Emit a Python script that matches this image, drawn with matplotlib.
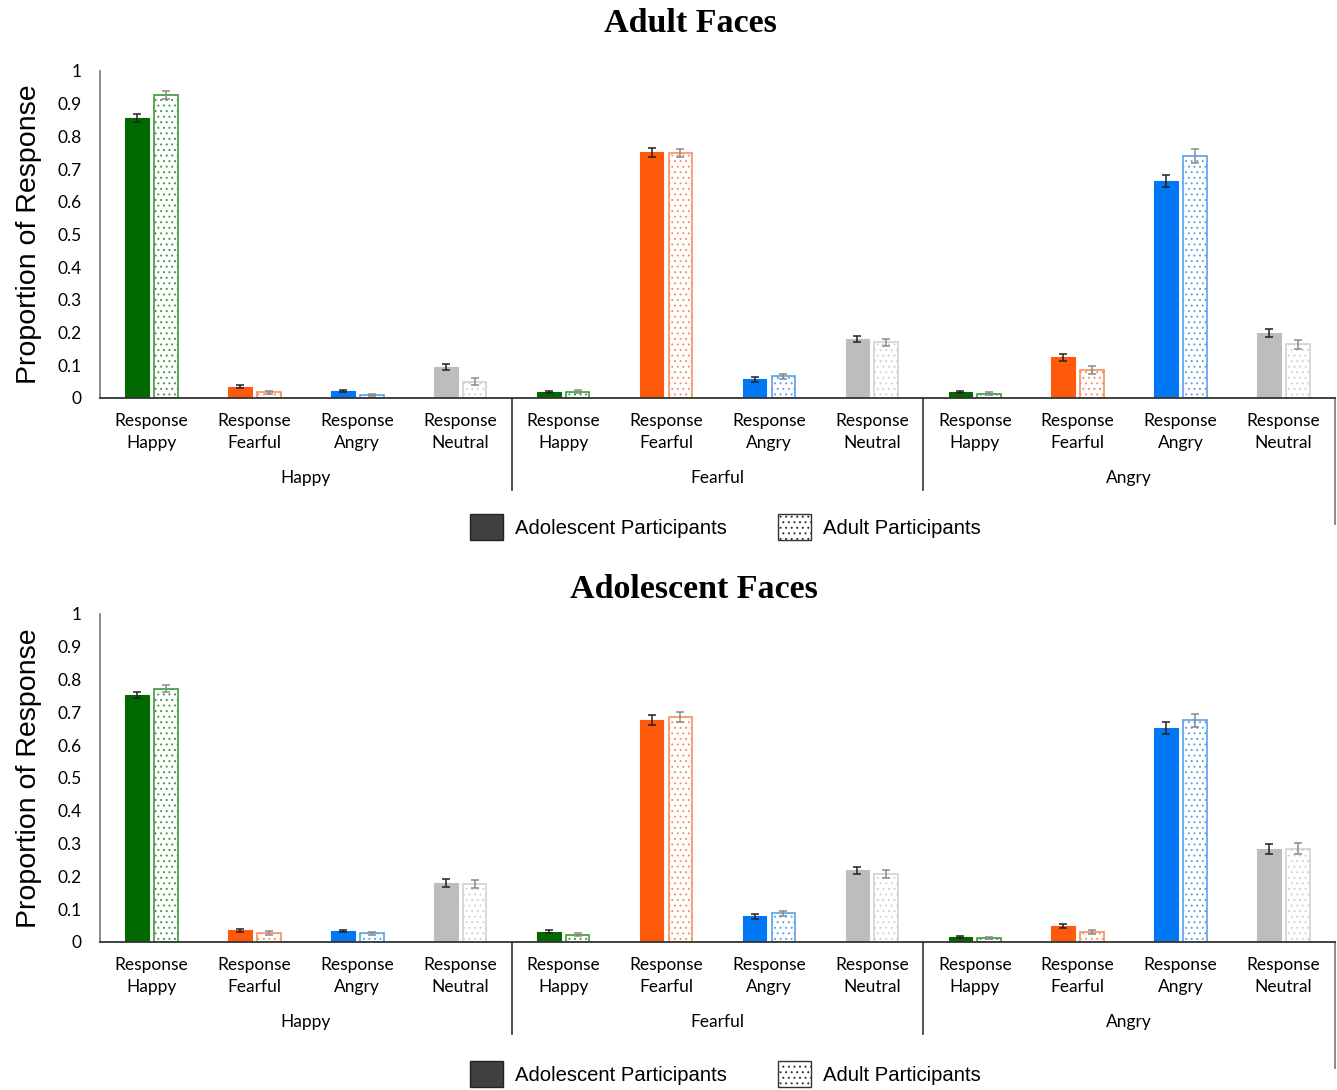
import numpy as np
import matplotlib.pyplot as plt
from matplotlib.patches import Patch
from matplotlib.transforms import blended_transform_factory

# response categories within each face emotion
responses = ['Response\nHappy', 'Response\nFearful', 'Response\nAngry', 'Response\nNeutral']
emotions = ['Happy', 'Fearful', 'Angry']
yticks = [0, 0.1, 0.2, 0.3, 0.4, 0.5, 0.6, 0.7, 0.8, 0.9, 1]
ytick_labels = ['0', '0.1', '0.2', '0.3', '0.4', '0.5', '0.6', '0.7', '0.8', '0.9', '1']

# Adult faces: proportions and standard errors
adult_faces_adol = [0.855, 0.035, 0.021, 0.095,
                    0.018, 0.751, 0.057, 0.179,
                    0.018, 0.124, 0.664, 0.198]
adult_faces_adol_se = [0.012, 0.005, 0.004, 0.010,
                       0.004, 0.013, 0.007, 0.009,
                       0.004, 0.011, 0.019, 0.013]
adult_faces_adult = [0.927, 0.017, 0.009, 0.050,
                     0.019, 0.748, 0.066, 0.170,
                     0.013, 0.086, 0.740, 0.164]
adult_faces_adult_se = [0.013, 0.004, 0.003, 0.011,
                        0.004, 0.012, 0.008, 0.010,
                        0.004, 0.012, 0.020, 0.013]

# Adolescent faces: proportions and standard errors
adol_faces_adol = [0.752, 0.035, 0.034, 0.180,
                   0.031, 0.676, 0.078, 0.219,
                   0.016, 0.049, 0.652, 0.284]
adol_faces_adol_se = [0.009, 0.005, 0.004, 0.012,
                      0.005, 0.015, 0.007, 0.011,
                      0.003, 0.006, 0.019, 0.016]
adol_faces_adult = [0.772, 0.026, 0.026, 0.177,
                    0.022, 0.685, 0.087, 0.206,
                    0.013, 0.030, 0.676, 0.284]
adol_faces_adult_se = [0.010, 0.006, 0.005, 0.012,
                       0.005, 0.016, 0.008, 0.012,
                       0.003, 0.007, 0.020, 0.017]

fill_colors = ['#006a00', '#ff5a0c', '#0077f4', '#bdbdbd']
edge_colors = ['#3e9a3e', '#f39064', '#5aa2ea', '#d2d2d2']

plt.rcParams['hatch.linewidth'] = 0.7
tick_font = 'Lato'


def draw_panel(ax, adol, adol_se, adult, adult_se):
    x = np.arange(12)
    w = 0.23
    off = 0.14
    cols = [fill_colors[i % 4] for i in range(12)]
    edges = [edge_colors[i % 4] for i in range(12)]
    ax.bar(x - off, adol, w, color=cols, edgecolor=cols, linewidth=0.8, zorder=2)
    ax.bar(x + off, adult, w, color='white', edgecolor=edges, hatch='...',
           linewidth=1.2, zorder=2)
    ax.errorbar(x - off, adol, yerr=adol_se, fmt='none', ecolor='#222222',
                elinewidth=1.1, capsize=3, capthick=1.1, zorder=3)
    ax.errorbar(x + off, adult, yerr=adult_se, fmt='none', ecolor='#8a8a8a',
                elinewidth=1.1, capsize=3, capthick=1.1, zorder=3)

    ax.set_xlim(-0.5, 11.5)
    ax.set_ylim(0, 1)
    ax.set_yticks(yticks)
    ax.set_yticklabels(ytick_labels, fontfamily=tick_font, fontsize=12.5)
    ax.set_xticks(x)
    ax.set_xticklabels(responses * 3, fontfamily=tick_font, fontsize=12.5,
                       linespacing=1.45)
    ax.tick_params(axis='both', length=0)
    ax.tick_params(axis='y', pad=13)
    ax.tick_params(axis='x', pad=11)
    for s in ['top', 'right']:
        ax.spines[s].set_visible(False)
    ax.spines['left'].set_color('#777777')
    ax.spines['bottom'].set_color('#333333')
    ax.spines['left'].set_linewidth(1.2)
    ax.spines['bottom'].set_linewidth(1.3)
    ax.set_ylabel('Proportion of Response', fontfamily='Liberation Sans',
                  fontsize=20.5, labelpad=11)

    trans = blended_transform_factory(ax.transData, ax.transAxes)
    for g, name in enumerate(emotions):
        ax.text(g * 4 + 1.5, -0.245, name, transform=trans, ha='center',
                va='center', fontfamily=tick_font, fontsize=12.5)
    for xs, y_end, c in [(3.5, -0.28, '#333333'), (7.5, -0.28, '#333333'),
                         (11.5, -0.385, '#777777')]:
        ax.plot([xs, xs], [0, y_end], transform=trans, color=c, lw=1.2,
                clip_on=False)


fig = plt.figure(figsize=(13.37, 10.9), dpi=100)
ax1 = fig.add_axes([0.0748, 0.6349, 0.9237, 0.300])
ax2 = fig.add_axes([0.0748, 0.1358, 0.9237, 0.301])

draw_panel(ax1, adult_faces_adol, adult_faces_adol_se,
           adult_faces_adult, adult_faces_adult_se)
draw_panel(ax2, adol_faces_adol, adol_faces_adol_se,
           adol_faces_adult, adol_faces_adult_se)

title_kw = dict(ha='center', va='center', fontfamily='Liberation Serif',
                fontweight='bold', fontsize=24.5)
fig.text(0.5165, 0.978, 'Adult Faces', **title_kw)
fig.text(0.519, 0.4595, 'Adolescent Faces', **title_kw)

handles = [Patch(facecolor='#404040', edgecolor='#222222'),
           Patch(facecolor='white', edgecolor='#333333', hatch='...')]
labels = ['Adolescent Participants', 'Adult Participants']
for yy in [0.5165, 0.0147]:
    fig.legend(handles, labels, loc='center', bbox_to_anchor=(0.5426, yy),
               ncol=2, frameon=False, prop={'family': 'Liberation Sans', 'size': 14.6},
               handlelength=1.65, handleheight=1.65, handletextpad=0.6,
               columnspacing=2.5)

fig.savefig('out.png', dpi=100)
